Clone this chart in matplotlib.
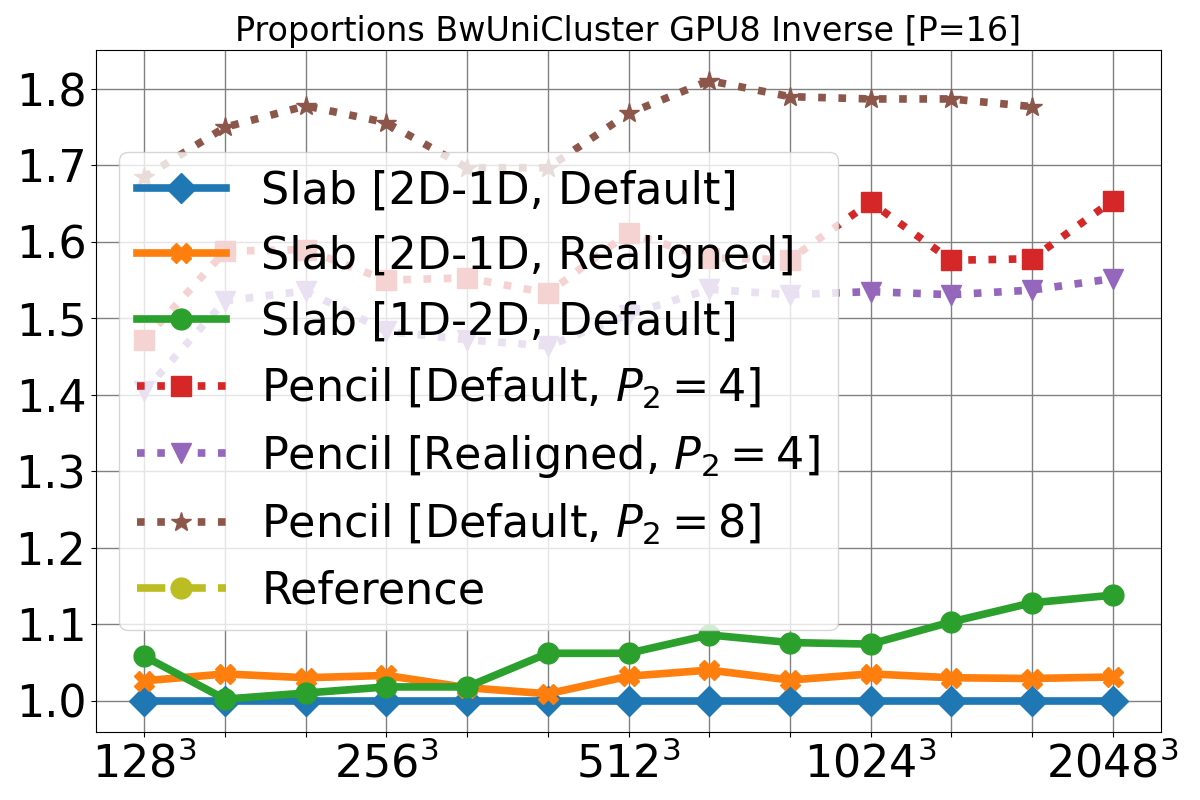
import numpy as np
import matplotlib
matplotlib.use("Agg")
import matplotlib.pyplot as plt

sizes = ["$128^3$", "", "", "$256^3$", "", "", "$512^3$", "", "", "$1024^3$", "", "", "$2048^3$"]

slab_2d1d_default = [1.0, 1.0, 1.0, 1.0, 1.0, 1.0, 1.0, 1.0, 1.0, 1.0, 1.0, 1.0, 1.0]
slab_2d1d_realigned = [1.026, 1.035, 1.030, 1.033, 1.017, 1.009, 1.032, 1.040, 1.027, 1.035, 1.030, 1.029, 1.031]
slab_1d2d_default = [1.058, 1.002, 1.010, 1.018, 1.018, 1.062, 1.062, 1.086, 1.076, 1.074, 1.103, 1.128, 1.138]
pencil_default_4 = [1.472, 1.588, 1.590, 1.550, 1.553, 1.533, 1.612, 1.579, 1.577, 1.652, 1.576, 1.578, 1.654]
pencil_realigned_4 = [1.405, 1.523, 1.536, 1.483, 1.472, 1.464, 1.505, 1.538, 1.531, 1.535, 1.531, 1.537, 1.552]
pencil_default_8 = [1.685, 1.750, 1.778, 1.756, 1.697, 1.697, 1.768, 1.811, 1.790, 1.787, 1.787, 1.777, np.nan]
reference = []

x = np.arange(len(sizes))

plt.figure(figsize=(12, 8), dpi=100)
lw = 5.5
ms = 15
plt.plot(x, slab_2d1d_default, "-", marker="D", color="tab:blue", lw=lw, ms=ms, label="Slab [2D-1D, Default]")
plt.plot(x, slab_2d1d_realigned, "-", marker="X", color="tab:orange", lw=lw, ms=ms, label="Slab [2D-1D, Realigned]")
plt.plot(x, slab_1d2d_default, "-", marker="o", color="tab:green", lw=lw, ms=ms, label="Slab [1D-2D, Default]")
plt.plot(x, pencil_default_4, ":", marker="s", color="tab:red", lw=lw, ms=ms, label="Pencil [Default, $P_2=4$]")
plt.plot(x, pencil_realigned_4, ":", marker="v", color="tab:purple", lw=lw, ms=ms, label="Pencil [Realigned, $P_2=4$]")
plt.plot(x, pencil_default_8, ":", marker="*", color="tab:brown", lw=lw, ms=ms, label="Pencil [Default, $P_2=8$]")
plt.plot(x[:len(reference)], reference, "--", marker="o", color="tab:olive", lw=lw, ms=ms, label="Reference")

plt.title("Proportions BwUniCluster GPU8 Inverse [P=16]", fontsize=24)
plt.xticks(x, sizes, fontsize=32)
plt.yticks(fontsize=32)
plt.grid(color="gray", lw=1)
plt.legend(loc="upper left", bbox_to_anchor=(0.0216, 0.85), borderaxespad=0, fontsize=32)
plt.subplots_adjust(left=0.08, right=0.9675, bottom=0.0854, top=0.938)
plt.savefig("out.png")
